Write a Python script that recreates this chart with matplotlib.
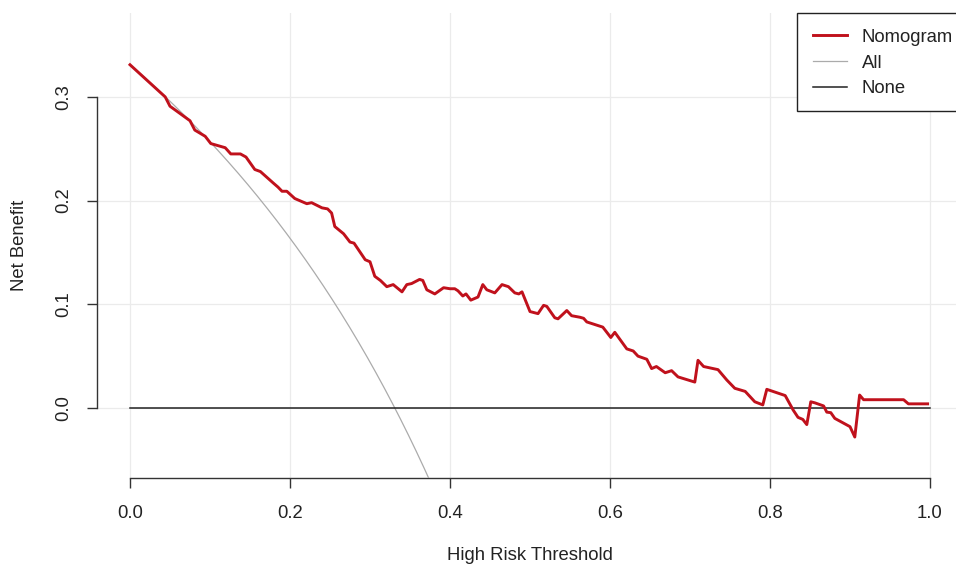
import matplotlib
matplotlib.use("Agg")
import matplotlib.pyplot as plt
from matplotlib.patches import Rectangle
import numpy as np

plt.rcParams['font.family'] = ['Liberation Sans', 'DejaVu Sans']

# Nomogram net benefit curve
nomo_x = [0.000, 0.044, 0.050, 0.075, 0.081, 0.094, 0.101, 0.119, 0.126, 0.138,
          0.145, 0.156, 0.163, 0.179, 0.185, 0.190, 0.196, 0.206, 0.221, 0.227,
          0.240, 0.247, 0.252, 0.256, 0.267, 0.275, 0.280, 0.294, 0.300, 0.306,
          0.313, 0.321, 0.329, 0.340, 0.346, 0.352, 0.362, 0.366, 0.371, 0.381,
          0.392, 0.400, 0.406, 0.410, 0.416, 0.420, 0.426, 0.435, 0.441, 0.446,
          0.456, 0.465, 0.473, 0.481, 0.486, 0.490, 0.500, 0.510, 0.517, 0.521,
          0.531, 0.535, 0.546, 0.552, 0.5625, 0.567, 0.571, 0.591, 0.601, 0.606,
          0.621, 0.629, 0.635, 0.646, 0.652, 0.658, 0.669, 0.677, 0.685, 0.706,
          0.710, 0.717, 0.735, 0.746, 0.756, 0.769, 0.781, 0.791, 0.796, 0.819,
          0.829, 0.835, 0.841, 0.846, 0.851, 0.856, 0.867, 0.871, 0.876, 0.881,
          0.900, 0.906, 0.912, 0.917, 0.967, 0.973, 0.997]
nomo_y = [0.331, 0.300, 0.291, 0.277, 0.268, 0.262, 0.255, 0.251, 0.245, 0.245,
          0.242, 0.230, 0.228, 0.217, 0.213, 0.209, 0.209, 0.202, 0.197, 0.198,
          0.193, 0.192, 0.188, 0.175, 0.168, 0.160, 0.159, 0.143, 0.141, 0.127,
          0.123, 0.117, 0.119, 0.112, 0.119, 0.120, 0.124, 0.123, 0.114, 0.110,
          0.116, 0.115, 0.115, 0.113, 0.108, 0.110, 0.104, 0.107, 0.119, 0.114,
          0.111, 0.119, 0.117, 0.111, 0.110, 0.112, 0.093, 0.091, 0.099, 0.098,
          0.087, 0.086, 0.094, 0.089, 0.0875, 0.0865, 0.083, 0.078, 0.068, 0.073,
          0.057, 0.055, 0.050, 0.047, 0.038, 0.040, 0.034, 0.036, 0.030, 0.025,
          0.046, 0.040, 0.037, 0.027, 0.019, 0.016, 0.006, 0.003, 0.018, 0.012,
          -0.002, -0.009, -0.011, -0.016, 0.006, 0.005, 0.002, -0.004, -0.0045, -0.010,
          -0.018, -0.028, 0.0125, 0.008, 0.008, 0.004, 0.004]

# "All" strategy: treat everyone, prevalence
prevalence = 0.331
all_x = np.linspace(0.0, 0.40, 400)
all_y = prevalence - (1 - prevalence) * all_x / (1 - all_x)

# "None" strategy
none_x = [0.0, 1.0]
none_y = [0.0, 0.0]

xticks = [0.0, 0.2, 0.4, 0.6, 0.8, 1.0]
xtick_labels = ["0.0", "0.2", "0.4", "0.6", "0.8", "1.0"]
yticks = [0.0, 0.1, 0.2, 0.3]
ytick_labels = ["0.0", "0.1", "0.2", "0.3"]

W, H = 956, 565
FS = 13.3
fig = plt.figure(figsize=(W / 100, H / 100), dpi=100)
ax = fig.add_axes([97 / W, 87 / H, 865 / W, 465 / H])

red = '#c0111c'
ax.plot(all_x, all_y, color='#ababab', lw=0.9, label='All', zorder=3)
ax.plot(none_x, none_y, color='#222222', lw=1.1, label='None', zorder=3)
ax.plot(nomo_x, nomo_y, color=red, lw=2.1, label='Nomogram', zorder=4)

ax.set_xlim(-0.04125, 1.04)
ax.set_ylim(-0.0675, 0.3809)

ax.set_xticks(xticks)
ax.set_xticklabels(xtick_labels)
ax.set_yticks(yticks)
ax.set_yticklabels(ytick_labels, rotation=90, va='center')

ax.grid(True, color='#ebebeb', lw=0.9, zorder=0)
ax.set_axisbelow(True)

for s in ['top', 'right']:
    ax.spines[s].set_visible(False)
for s in ['left', 'bottom']:
    ax.spines[s].set_color('#333333')
    ax.spines[s].set_linewidth(1.0)
ax.spines['left'].set_bounds(0.0, 0.3)
ax.spines['bottom'].set_bounds(0.0, 1.0)

ax.tick_params(axis='both', direction='out', length=7.5, width=1.0,
               color='#333333', labelsize=FS, labelcolor='#222222')
ax.tick_params(axis='x', pad=12)
ax.tick_params(axis='y', pad=10)

fig.text(530 / W, 1 - 555 / H, "High Risk Threshold", ha='center', va='center',
         fontsize=FS, color='#222222')
fig.text(20 / W, 1 - 245 / H, "Net Benefit", ha='center', va='center',
         rotation=90, fontsize=FS, color='#222222')

# legend frame (extends beyond the right edge, as in the reference)
ax.add_patch(Rectangle((797 / W, 1 - 111 / H), 180 / W, 98 / H,
                       transform=fig.transFigure, facecolor='white',
                       edgecolor='#222222', lw=1.0, zorder=5, clip_on=False))

handles, labels = ax.get_legend_handles_labels()
order = [2, 0, 1]
leg = ax.legend([handles[i] for i in order], [labels[i] for i in order],
                loc='upper left', bbox_to_anchor=(797 / W, 1 - 13 / H),
                bbox_transform=fig.transFigure, borderaxespad=0,
                fontsize=FS, frameon=False, handlelength=1.85,
                handletextpad=0.8, borderpad=0.85, labelspacing=0.48)
leg.set_zorder(6)
for t in leg.get_texts():
    t.set_color('#222222')

fig.savefig("out.png", dpi=100)
